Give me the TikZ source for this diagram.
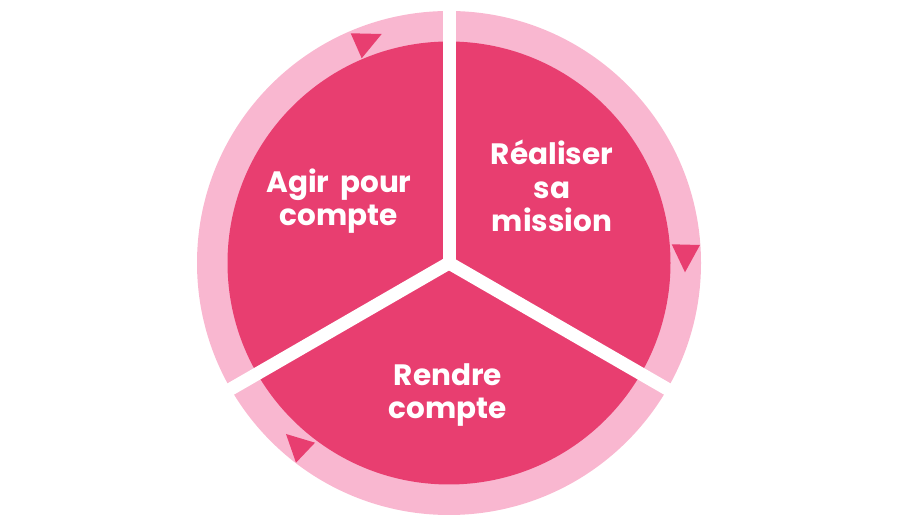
\documentclass[tikz,border=0pt]{standalone}
\usepackage{fontspec}
\setmainfont{Poppins}[WordSpace=1.7]
\usetikzlibrary{calc}
\definecolor{darkpink}{RGB}{232,62,112}
\definecolor{lightpink}{RGB}{249,183,208}
\tikzset{
  lbl/.style={text=white, font=\fontsize{29.5}{33.6}\selectfont\bfseries, align=center, inner sep=0pt},
  arrowtri/.style={fill=darkpink, draw=none},
  gapbar/.style={draw=white, line width=13pt, line cap=round}
}
\begin{document}
\begin{tikzpicture}[x=1pt,y=1pt]
\useasboundingbox (0,0) rectangle (897,527);
\coordinate (c) at (449,264);
\fill[lightpink] (c) circle[radius=252];
\fill[darkpink] (c) circle[radius=221.5];
\coordinate (g1) at ($(c)+(90:262)$);
\coordinate (g2) at ($(c)+(210:262)$);
\coordinate (g3) at ($(c)+(330:262)$);
\draw[gapbar] (c) -- (g1);
\draw[gapbar] (c) -- (g2);
\draw[gapbar] (c) -- (g3);
\fill[arrowtri] (350.7,493.7) -- (381.7,493) -- (361.7,468.7) -- cycle;
\fill[arrowtri] (671.7,282.7) -- (700,282) -- (685,254.7) -- cycle;
\fill[arrowtri] (286,93) -- (315,84.3) -- (296,64.3) -- cycle;
\node[lbl] (agir) at (339,326) {Agir pour\\compte};
\node[lbl] (real) at (552,341) {Réaliser\\sa\\mission};
\node[lbl] (rendre) at (448,132) {Rendre\\compte};
\end{tikzpicture}
\end{document}
